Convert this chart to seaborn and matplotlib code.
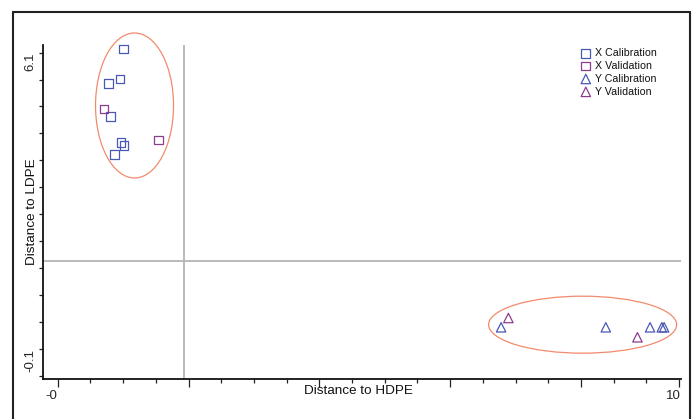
import numpy as np
import pandas as pd
import matplotlib
matplotlib.use("Agg")
import matplotlib.pyplot as plt
import matplotlib.transforms as mtransforms
from matplotlib.patches import Ellipse
from matplotlib.lines import Line2D
import seaborn as sns

# ---------------- data ----------------
x_cal_x = [1.056, 1.003, 0.821, 0.847, 1.019, 1.067, 0.917]
x_cal_y = [6.178, 5.549, 5.451, 4.759, 4.223, 4.160, 3.963]
x_val_x = [0.745, 1.626]
x_val_y = [4.921, 4.271]
y_cal_x = [7.135, 8.820, 9.532, 9.721, 9.758]
y_cal_y = [0.347, 0.347, 0.347, 0.347, 0.347]
y_val_x = [7.252, 9.329]
y_val_y = [0.542, 0.138]

series_names = ["X Calibration", "X Validation", "Y Calibration", "Y Validation"]

# threshold lines
x_thresh = 2.028
y_thresh = 1.736

# class ellipses: centre x, centre y, width, height
ell_cx = [1.236, 8.447]
ell_cy = [4.994, 0.402]
ell_w = [1.255, 3.026]
ell_h = [3.038, 1.194]

x_tick_labels = ["-0", "10"]
y_tick_labels = ["6.1", "-0.1"]

# ---------------- style ----------------
sns.set_style("white")
plt.rcParams["font.family"] = ["Liberation Sans", "DejaVu Sans"]

BLUE = "#4a58b5"
PURPLE = "#8c3d8e"
ELL = "#f28a6c"

fig = plt.figure(figsize=(6.96, 4.19), dpi=100)
W, H = 696, 419
ax = fig.add_axes([43.3 / W, 1 - 379 / H, (681 - 43.3) / W, (379 - 45) / H])
ax.set_facecolor("white")

groups = [
    (x_cal_x, x_cal_y, series_names[0], "s", BLUE, 40),
    (x_val_x, x_val_y, series_names[1], "s", PURPLE, 40),
    (y_cal_x, y_cal_y, series_names[2], "^", BLUE, 46),
    (y_val_x, y_val_y, series_names[3], "^", PURPLE, 46),
]
for gx, gy, name, mk, col, sz in groups:
    df = pd.DataFrame({"x": gx, "y": gy})
    sns.scatterplot(data=df, x="x", y="y", ax=ax, marker=mk, s=sz,
                    facecolors="none", edgecolors=col, color=col,
                    linewidths=0.9, label=name, zorder=3, clip_on=False)

for cx, cy, w, h in zip(ell_cx, ell_cy, ell_w, ell_h):
    ax.add_patch(Ellipse((cx, cy), w, h, fill=False, edgecolor=ELL, lw=0.9,
                         zorder=2, clip_on=False))

ax.axvline(x_thresh, color="#a8a8a8", lw=1.1, zorder=1)
ax.axhline(y_thresh, color="#b4b4b4", lw=1.3, zorder=1)

ax.set_xlim(-0.232, 10.03)
ax.set_ylim(-0.736, 6.261)

# x ticks
step_x = 10 / 19
major_x = [0, 4 * step_x, 8 * step_x, 12 * step_x, 16 * step_x, 10]
minor_x = [k * step_x for k in range(20) if k % 4 != 0 and k != 19]
ax.set_xticks(major_x)
ax.set_xticklabels([x_tick_labels[0], "", "", "", "", x_tick_labels[1]])
ax.set_xticks(minor_x, minor=True)

# y ticks
step_y = 6.2 / 11
yt = [6.1 - i * step_y for i in range(13)]
ax.set_yticks(yt)
ylabs = [""] * 13
ylabs[0] = y_tick_labels[0]
ylabs[11] = y_tick_labels[1]
ax.set_yticklabels(ylabs, rotation=90, va="top")

ax.tick_params(axis="x", which="major", direction="out", length=5.5, width=0.9,
               color="#222222", labelsize=9.5, pad=2.5, bottom=True)
ax.tick_params(axis="x", which="minor", direction="out", length=3.2, width=0.9,
               color="#222222", bottom=True)
ax.tick_params(axis="y", which="major", direction="out", length=3.2, width=0.9,
               color="#222222", labelsize=9.5, pad=2.0, left=True)

offset = mtransforms.ScaledTranslation(-6 / 100, 0, fig.dpi_scale_trans)
for lab in ax.get_xticklabels():
    lab.set_transform(lab.get_transform() + offset)

for s in ["top", "right"]:
    ax.spines[s].set_visible(False)
for s in ["left", "bottom"]:
    ax.spines[s].set_color("#111111")
    ax.spines[s].set_linewidth(1.3)

ax.set_xlabel("Distance to HDPE", fontsize=9.7, color="#111111")
ax.set_ylabel("Distance to LDPE", fontsize=9.7, color="#111111")
ax.xaxis.set_label_coords((358.8 - 43.3) / 637.7, (379 - 385) / 334)
ax.yaxis.set_label_coords((38 - 43.3) / 637.7, (379 - 212) / 334)

leg = ax.legend(loc="upper left", bbox_to_anchor=(581 / W, 1 - 48 / H),
                bbox_transform=fig.transFigure, frameon=False, fontsize=7.7,
                handlelength=0.9, handletextpad=0.45, labelspacing=0.27,
                borderpad=0, borderaxespad=0, markerscale=1.0)
for t in leg.get_texts():
    t.set_color("#111111")

# outer frame
fr = dict(color="#222222", lw=1.5, transform=fig.transFigure, clip_on=False)
fig.add_artist(Line2D([12.7 / W, 690 / W], [1 - 12 / H, 1 - 12 / H], **fr))
fig.add_artist(Line2D([12.7 / W, 12.7 / W], [1 - 12 / H, 0], **fr))
fig.add_artist(Line2D([690 / W, 690 / W], [1 - 12 / H, 0], **fr))

fig.savefig("out.png", dpi=100, facecolor="white")
